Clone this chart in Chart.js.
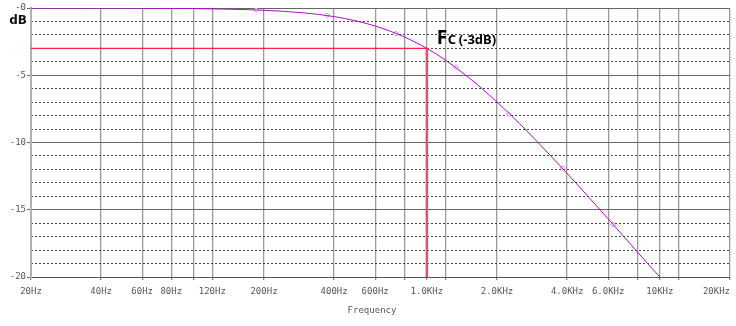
<!DOCTYPE html>
<html>
<head>
<meta charset="utf-8">
<script src="https://cdn.jsdelivr.net/npm/chart.js@4"></script>
<style>
  html, body { margin: 0; padding: 0; background: #fff; }
  #wrap { width: 736px; height: 326px; position: relative; }
</style>
</head>
<body>
<div id="wrap"><canvas id="chartCanvas"></canvas></div>
<script>
// response (Hz / dB)
const freqHz = [20, 50, 100, 150, 200, 300, 400, 500, 600, 700, 800, 900, 1000, 1200, 1500, 2000, 2500, 3000, 4000, 5000, 6000, 7000, 8000, 9000, 10000];
const gainDb = [0, -0.01, -0.04, -0.1, -0.17, -0.37, -0.64, -0.97, -1.34, -1.74, -2.15, -2.58, -3.0, -3.87, -5.12, -6.99, -8.6, -10.0, -12.3, -14.15, -15.68, -16.99, -18.13, -19.13, -20.0];

// trace markers
const markerHz = [185, 373, 737, 1334, 2252, 3838, 6290];
const markerDb = [-0.15, -0.56, -1.9, -4.4, -7.9, -11.9, -16.1];

// cutoff marker
const fcHz = 1000;
const fcDb = -3;

// axes
const xGridHz = [20, 40, 60, 80, 100, 120, 200, 400, 600, 800, 1000, 1200, 2000, 4000, 6000, 8000, 10000, 12000, 20000];
const xGridLabels = ['20Hz', '40Hz', '60Hz', '80Hz', '', '120Hz', '200Hz', '400Hz', '600Hz', '', '1.0KHz', '', '2.0KHz', '4.0KHz', '6.0KHz', '', '10KHz', '', '20KHz     '];
const yMajor = [-20, -15, -10, -5, 0];
const yMajorLabels = ['-20', '-15', '-10', '-5', '-0'];
const yMinor = [-19, -18, -17, -16, -14, -13, -12, -11, -9, -8, -7, -6, -4, -3, -2, -1];

const tickFont = { family: 'DejaVu Sans Mono', size: 9 };
const tickColor = '#555';

const canvas = document.getElementById('chartCanvas');
const ctx = canvas.getContext('2d');

const textPlugin = {
  id: 'textPlugin',
  afterDatasetsDraw(chart) {
    const c = chart.ctx;
    const xs = chart.scales.x;
    const ys = chart.scales.y;
    c.save();
    // dB unit
    c.fillStyle = '#111';
    c.font = 'bold 12px "DejaVu Sans"';
    c.textBaseline = 'middle';
    c.textAlign = 'right';
    c.fillText('dB', 27, 21);
    // Fc annotation
    const px = xs.getPixelForValue(fcHz);
    const py = ys.getPixelForValue(fcDb);
    c.textAlign = 'left';
    c.textBaseline = 'alphabetic';
    c.fillStyle = '#000';
    c.font = 'bold 19px "Noto Sans"';
    c.fillText('F', px + 10, py - 4);
    c.font = 'bold 13px "Noto Sans"';
    c.fillText('C', px + 21, py - 4);
    c.fillText('(-3dB)', px + 32, py - 4);
    // axis title
    c.fillStyle = tickColor;
    c.font = '9px "DejaVu Sans Mono"';
    c.textAlign = 'center';
    c.textBaseline = 'middle';
    c.fillText('Frequency', 372, 311);
    c.restore();
  }
};

const chart = new Chart(ctx, {
  type: 'line',
  data: {
    datasets: [
      {
        label: 'Fc level',
        data: [{ x: freqHz[0], y: fcDb }, { x: fcHz, y: fcDb }],
        borderColor: '#ff2050',
        borderWidth: 1.2,
        pointRadius: 0
      },
      {
        label: 'Fc',
        data: [{ x: fcHz, y: fcDb }, { x: fcHz, y: yMajor[0] }],
        borderColor: '#e6506e',
        borderWidth: 2.5,
        pointRadius: 0
      },
      {
        label: 'V(out)',
        data: freqHz.map((f, i) => ({ x: f, y: gainDb[i] })),
        borderColor: '#a810c0',
        borderWidth: 1,
        pointRadius: 0,
        cubicInterpolationMode: 'monotone'
      },
      {
        label: 'markers',
        data: markerHz.map((f, i) => ({ x: f, y: markerDb[i] })),
        showLine: false,
        pointStyle: 'rectRot',
        pointRadius: 2.5,
        borderWidth: 1,
        borderColor: '#d88ae6',
        backgroundColor: '#fff'
      }
    ]
  },
  options: {
    responsive: true,
    maintainAspectRatio: false,
    animation: false,
    layout: { padding: { top: 8, right: 6, left: 0, bottom: 0 } },
    plugins: { legend: { display: false }, tooltip: { enabled: false } },
    scales: {
      x: {
        type: 'logarithmic',
        min: 20,
        max: 20000,
        afterBuildTicks: s => { s.ticks = xGridHz.map(v => ({ value: v })); },
        afterFit: s => { s.height = 49; s.paddingLeft = 0; s.paddingRight = 0; },
        grid: { color: '#9a9a9a', lineWidth: 1.3, tickLength: 3, tickColor: '#888' },
        border: { color: '#555', width: 1 },
        ticks: {
          autoSkip: false,
          maxRotation: 0,
          padding: 6,
          color: tickColor,
          font: tickFont,
          callback: (v, i) => xGridLabels[i]
        }
      },
      y: {
        min: -20,
        max: 0,
        afterBuildTicks: s => { s.ticks = yMajor.map(v => ({ value: v })); },
        afterFit: s => { s.width = 31; s.paddingTop = 0; s.paddingBottom = 0; },
        grid: { color: '#666', lineWidth: 1, tickLength: 4, tickColor: '#666' },
        border: { color: '#b0b0b0', width: 2 },
        ticks: {
          padding: 1,
          color: tickColor,
          font: tickFont,
          callback: (v, i) => yMajorLabels[i]
        }
      },
      yMinor: {
        position: 'left',
        min: -20,
        max: 0,
        afterBuildTicks: s => { s.ticks = yMinor.map(v => ({ value: v })); },
        afterFit: s => { s.width = 0; },
        grid: { color: '#444', lineWidth: 1, drawTicks: false },
        border: { display: false, dash: [2, 2] },
        ticks: { display: false }
      }
    }
  },
  plugins: [textPlugin]
});
</script>
</body>
</html>
